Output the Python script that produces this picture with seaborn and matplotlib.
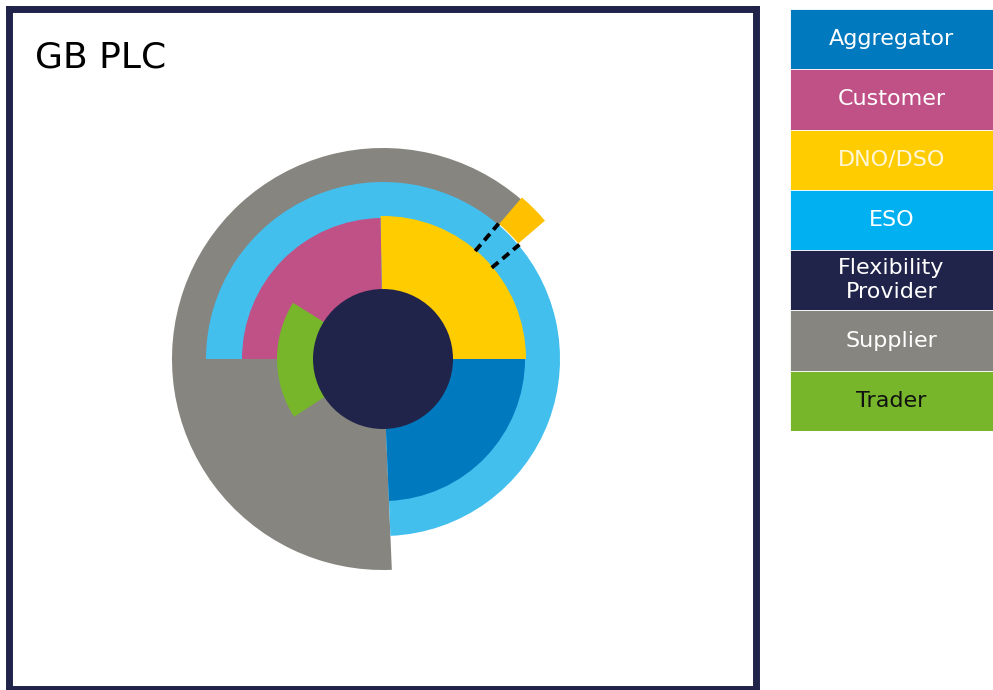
import numpy as np
import pandas as pd
import matplotlib
matplotlib.use("Agg")
import matplotlib.pyplot as plt
import seaborn as sns

sns.set_theme(style="white")
plt.rcParams['font.family'] = ['DejaVu Sans']

# roles (legend order)
roles = ["Aggregator", "Customer", "DNO/DSO", "ESO", "Flexibility Provider", "Supplier", "Trader"]
legend_labels = ["Aggregator", "Customer", "DNO/DSO", "ESO", "Flexibility\nProvider", "Supplier", "Trader"]

# wedges of the chart (degrees, radius in chart units), in drawing order
seg_role = ["Supplier", "ESO", "Aggregator", "DNO/DSO", "Customer", "Trader", "Flexibility Provider", "DNO/DSO"]
seg_start = [49.0, -87.6, -87.6, 0.0, 91.0, 148.0, 0.0, 40.5]
seg_end = [272.4, 180.0, 0.0, 91.0, 180.0, 213.0, 360.0, 49.3]
seg_inner = [0, 0, 0, 0, 0, 0, 0, 178]
seg_outer = [211, 177, 142, 143, 141, 106, 70, 213]

# dashed link lines from the DNO/DSO wedge to the small block
dash_theta = [49.5, 40.0]
dash_r = [142, 178]

# colours
legend_colors = {
    "Aggregator": "#0079BF", "Customer": "#C05186", "DNO/DSO": "#FFCC00", "ESO": "#00B0F0",
    "Flexibility Provider": "#20244A", "Supplier": "#86857F", "Trader": "#77B62B",
}
chart_colors = dict(legend_colors, ESO="#43BFEE")
seg_colors = [chart_colors[r] for r in seg_role]
seg_colors[-1] = "#FFC000"
text_colors = ["white", "white", "#FFF6D8", "white", "white", "white", "#111111"]
navy = "#20244A"

W, H = 993, 690
fig = plt.figure(figsize=(W / 100, H / 100), dpi=100)

# frame
frame = fig.add_axes([9 / W, 1 - 688.5 / H, 746.5 / W, 679.5 / H])
frame.set_xticks([])
frame.set_yticks([])
for s in frame.spines.values():
    s.set_color(navy)
    s.set_linewidth(5)
frame.set_facecolor("white")

fig.text(35 / W, 1 - 67 / H, "GB PLC", fontsize=26, color="black", va="baseline", ha="left")

# polar chart
cx, cy, R = 383, 359, 220
ax = fig.add_axes([(cx - R) / W, (H - cy - R) / H, 2 * R / W, 2 * R / H], projection="polar")
ax.set_facecolor("none")
df = pd.DataFrame({"role": seg_role, "start": seg_start, "end": seg_end,
                   "inner": seg_inner, "outer": seg_outer})
for (_, row), col in zip(df.iterrows(), seg_colors):
    t0, t1 = np.deg2rad(row["start"]), np.deg2rad(row["end"])
    ax.bar((t0 + t1) / 2, row["outer"] - row["inner"], width=t1 - t0,
           bottom=row["inner"], color=col, linewidth=0, align="center")
for t in dash_theta:
    ax.plot([np.deg2rad(t)] * 2, dash_r, color="black", lw=2.8, dashes=(2.2, 1.4))
ax.set_ylim(0, R)
ax.set_axis_off()

# legend as stacked boxes
lax = fig.add_axes([790 / W, 1 - 431 / H, 203 / W, 422 / H])
leg = pd.DataFrame({"role": roles, "v": [1] * len(roles)})
sns.barplot(data=leg, x="v", y="role", hue="role", palette=legend_colors, saturation=1,
            width=1.0, legend=False, ax=lax, linewidth=0.6, edgecolor="white")
for i, (lab, tc) in enumerate(zip(legend_labels, text_colors)):
    lax.text(0.5, i, lab, ha="center", va="center", color=tc, fontsize=16,
             linespacing=1.25)
lax.set_xlim(0, 1)
lax.set_ylim(len(roles) - 0.5, -0.5)
lax.set_axis_off()

fig.savefig("out.png", dpi=100)
